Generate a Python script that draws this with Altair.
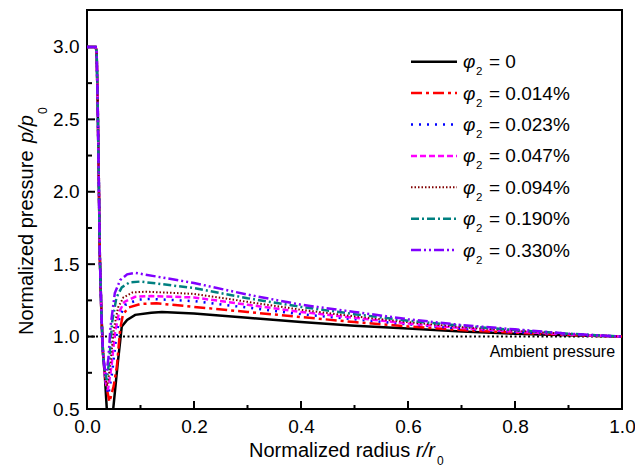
import altair as alt
import pandas as pd

W, H = 535, 399
FONT = "Liberation Sans"

# ---------------- data ----------------
series_labels = ["0", "0.014%", "0.023%", "0.047%", "0.094%", "0.190%", "0.330%"]

# common steep drop from the plateau p/p0 = 3
drop_r = [0.0, 0.016, 0.018, 0.020, 0.022, 0.024, 0.027, 0.030]
drop_p = [3.0, 3.0, 2.97, 2.6, 2.1, 1.55, 1.15, 0.88]

# dip + peak region, per series
dip_r_0 = [0.033, 0.037, 0.043, 0.049, 0.057, 0.065, 0.075, 0.09, 0.12, 0.14]
dip_p_0 = [0.75, 0.50, 0.42, 0.50, 0.80, 1.07, 1.115, 1.15, 1.165, 1.17]
dip_r_1 = [0.036, 0.042, 0.050, 0.056, 0.062, 0.067, 0.077, 0.10, 0.13]
dip_p_1 = [0.66, 0.55, 0.66, 0.80, 1.05, 1.15, 1.20, 1.225, 1.23]
dip_r_2 = [0.035, 0.040, 0.047, 0.054, 0.061, 0.072, 0.095, 0.12]
dip_p_2 = [0.68, 0.60, 0.75, 0.98, 1.14, 1.22, 1.255, 1.26]
dip_r_3 = [0.034, 0.039, 0.046, 0.052, 0.060, 0.070, 0.090, 0.12]
dip_p_3 = [0.70, 0.63, 0.80, 1.02, 1.17, 1.24, 1.275, 1.28]
dip_r_4 = [0.034, 0.038, 0.044, 0.050, 0.058, 0.068, 0.085, 0.11]
dip_p_4 = [0.72, 0.66, 0.82, 1.05, 1.20, 1.27, 1.305, 1.31]
dip_r_5 = [0.033, 0.037, 0.042, 0.047, 0.055, 0.065, 0.080, 0.10]
dip_p_5 = [0.76, 0.70, 0.85, 1.10, 1.27, 1.34, 1.375, 1.38]
dip_r_6 = [0.033, 0.036, 0.040, 0.044, 0.052, 0.062, 0.075, 0.09]
dip_p_6 = [0.78, 0.74, 0.85, 1.07, 1.30, 1.39, 1.43, 1.44]

# slow decay towards ambient
tail_r = [0.2, 0.3, 0.4, 0.5, 0.6, 0.7, 0.8, 0.9, 1.0]
tail_p_0 = [1.16, 1.13, 1.10, 1.075, 1.055, 1.035, 1.02, 1.009, 1.0]
tail_p_1 = [1.205, 1.17, 1.135, 1.10, 1.07, 1.045, 1.027, 1.012, 1.0]
tail_p_2 = [1.245, 1.20, 1.155, 1.12, 1.085, 1.055, 1.032, 1.014, 1.0]
tail_p_3 = [1.27, 1.22, 1.17, 1.13, 1.09, 1.06, 1.035, 1.015, 1.0]
tail_p_4 = [1.295, 1.24, 1.185, 1.14, 1.10, 1.065, 1.04, 1.018, 1.0]
tail_p_5 = [1.335, 1.265, 1.205, 1.155, 1.11, 1.075, 1.045, 1.02, 1.0]
tail_p_6 = [1.37, 1.29, 1.22, 1.17, 1.12, 1.08, 1.05, 1.02, 1.0]

dip_r = [dip_r_0, dip_r_1, dip_r_2, dip_r_3, dip_r_4, dip_r_5, dip_r_6]
dip_p = [dip_p_0, dip_p_1, dip_p_2, dip_p_3, dip_p_4, dip_p_5, dip_p_6]
tail_p = [tail_p_0, tail_p_1, tail_p_2, tail_p_3, tail_p_4, tail_p_5, tail_p_6]

ambient_p = [1.0]
x_major = [0.0, 0.2, 0.4, 0.6, 0.8, 1.0]
x_minor = [0.1, 0.3, 0.5, 0.7, 0.9]
y_major = [0.5, 1.0, 1.5, 2.0, 2.5, 3.0]
y_minor = [0.75, 1.25, 1.75, 2.25, 2.75]

# ---------------- styles ----------------
colors = ["#000000", "#ff0000", "#0000ff", "#ff00ff", "#800000", "#008080", "#8000ff"]
dashes = [None, [11, 4, 3, 4], [2, 6], [6, 3], [1.5, 2], [8, 3, 2, 3], [10, 3, 2, 3, 2, 3]]
widths = [2.5, 2.5, 2.5, 2.5, 2.0, 2.5, 2.5]

xscale = alt.Scale(domain=[0, 1], nice=False, zero=False)
yscale = alt.Scale(domain=[0.5, 3.255], nice=False, zero=False)
xaxis = alt.Axis(values=x_major, format=".1f", labelPadding=8, labelFlush=False, title=None)
yaxis = alt.Axis(values=y_major, format=".1f", labelPadding=8, labelFlush=False, title=None)


def X(f):
    return alt.X(f"{f}:Q", scale=xscale, axis=xaxis)


def Y(f):
    return alt.Y(f"{f}:Q", scale=yscale, axis=yaxis)


layers = []

# ambient reference line
amb = pd.DataFrame({"r": [0.0], "r2": [1.0], "p": ambient_p})
layers.append(
    alt.Chart(amb).mark_rule(color="black", strokeDash=[2, 2.5], strokeWidth=2)
    .encode(x=X("r"), x2="r2:Q", y=Y("p"))
)
layers.append(
    alt.Chart(pd.DataFrame({"t": ["Ambient pressure"], "r": [0.987], "p": [0.859]}))
    .mark_text(align="right", baseline="alphabetic", font=FONT, fontSize=16, color="black")
    .encode(x=X("r"), y=Y("p"), text="t:N")
)

# ticks (inward)
def tick_layer(vals, ch, length):
    df = pd.DataFrame({"v": vals})
    m = alt.Chart(df).mark_rule(color="black", strokeWidth=2)
    if ch == "x":
        return m.encode(x=X("v"), y=alt.value(H), y2=alt.value(H - length))
    return m.encode(y=Y("v"), x=alt.value(0), x2=alt.value(length))


layers += [tick_layer(x_major, "x", 8), tick_layer(x_minor, "x", 4),
           tick_layer(y_major, "y", 8), tick_layer(y_minor, "y", 5)]

# curves + legend
for i, lab in enumerate(series_labels):
    r = drop_r + dip_r[i] + tail_r
    p = drop_p + dip_p[i] + tail_p[i]
    df = pd.DataFrame({"r": r, "p": p, "k": list(range(len(r)))})
    style = dict(color=colors[i], strokeWidth=widths[i])
    if dashes[i] is not None:
        style["strokeDash"] = dashes[i]
    layers.append(
        alt.Chart(df).mark_line(clip=True, **style)
        .encode(x=X("r"), y=Y("p"), order="k:Q")
    )
    ry = 51.7 + 31.4 * i
    layers.append(
        alt.Chart(pd.DataFrame({"t": [lab]})).mark_rule(**style)
        .encode(x=alt.value(324), x2=alt.value(370), y=alt.value(ry))
    )
    layers.append(
        alt.Chart(pd.DataFrame({"t": ["φ"]}))
        .mark_text(align="left", baseline="alphabetic", font=FONT, fontSize=19,
                   fontStyle="italic", color="black")
        .encode(x=alt.value(376), y=alt.value(ry + 6.5), text="t:N")
    )
    layers.append(
        alt.Chart(pd.DataFrame({"t": ["2"]}))
        .mark_text(align="left", baseline="alphabetic", font=FONT, fontSize=11.5, color="black")
        .encode(x=alt.value(389), y=alt.value(ry + 13.5), text="t:N")
    )
    layers.append(
        alt.Chart(pd.DataFrame({"t": ["= " + lab]}))
        .mark_text(align="left", baseline="alphabetic", font=FONT, fontSize=19, color="black")
        .encode(x=alt.value(402), y=alt.value(ry + 6.5), text="t:N")
    )

# axis titles (composed for italic / subscript parts)
def txt(s, x, y, size=20, italic=False, angle=0):
    kw = dict(align="left", baseline="alphabetic", font=FONT, fontSize=size, color="black")
    if italic:
        kw["fontStyle"] = "italic"
    if angle:
        kw["angle"] = angle
    return (alt.Chart(pd.DataFrame({"t": [s]})).mark_text(**kw)
            .encode(x=alt.value(x), y=alt.value(y), text="t:N"))


layers += [
    txt("Normalized radius", 162, 447),
    txt("r/r", 329, 447, italic=True),
    txt("0", 350, 455, size=12),
    txt("Normalized pressure", -54, 325, angle=270),
    txt("p/p", -54, 133, italic=True, angle=270),
    txt("0", -40, 104, size=12, angle=270),
]

chart = (
    alt.layer(*layers)
    .properties(width=W, height=H,
                autosize=alt.AutoSizeParams(type="none"),
                padding={"left": 79, "top": 2, "right": 13, "bottom": 58})
    .configure_view(stroke="black", strokeWidth=2)
    .configure_axis(grid=False, domain=False, ticks=False, labelFont=FONT,
                    labelFontSize=19, labelColor="black")
)

chart.save("out.html", embed_options={"renderer": "svg", "actions": False})
